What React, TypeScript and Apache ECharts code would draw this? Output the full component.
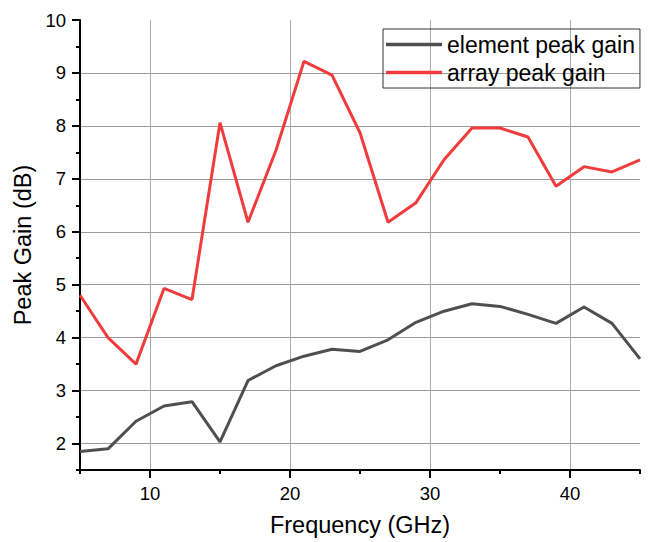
import { useEffect, useRef } from "react";
import * as echarts from "echarts";

const frequencies = [5, 7, 9, 11, 13, 15, 17, 19, 21, 23, 25, 27, 29, 31, 33, 35, 37, 39, 41, 43, 45];
const elementPeakGain = [1.85, 1.9, 2.42, 2.71, 2.79, 2.03, 3.19, 3.47, 3.65, 3.78, 3.74, 3.96, 4.29, 4.5, 4.64, 4.59, 4.44, 4.27, 4.58, 4.27, 3.6];
const arrayPeakGain = [4.8, 4.0, 3.5, 4.93, 4.72, 8.06, 6.18, 7.54, 9.22, 8.96, 7.87, 6.18, 6.55, 7.36, 7.96, 7.96, 7.79, 6.86, 7.23, 7.13, 7.36];
const xMajorTicks = [10, 20, 30, 40];
const yMajorTicks = [2, 3, 4, 5, 6, 7, 8, 9, 10];
const seriesNames = ["element peak gain", "array peak gain"];

const X_MIN = 5, X_MAX = 45, X_STEP = 5;
const Y_MIN = 1.5, Y_MAX = 10, Y_STEP = 0.5;

const FONT = "Liberation Sans, Arial, sans-serif";

export default function App() {
  const ref = useRef<HTMLDivElement>(null);
  useEffect(() => {
    document.body.style.margin = "0";
    if (!ref.current) return;
    const chart = echarts.init(ref.current, undefined, { renderer: "svg" });

    const xCount = Math.round((X_MAX - X_MIN) / X_STEP) + 1;
    const xSplitColors: string[] = [];
    for (let i = 0; i < xCount; i++) {
      const v = X_MIN + i * X_STEP;
      xSplitColors.push(xMajorTicks.includes(v) ? "#ababab" : "rgba(0,0,0,0)");
    }
    const yCount = Math.round((Y_MAX - Y_MIN) / Y_STEP) + 1;
    const ySplitColors: string[] = [];
    for (let i = 0; i < yCount; i++) {
      const v = Y_MIN + i * Y_STEP;
      ySplitColors.push(yMajorTicks.includes(v) && v !== Y_MAX ? "#9a9a9a" : "rgba(0,0,0,0)");
    }

    const axisLineStyle = { color: "#000", width: 2 };

    chart.setOption({
      animation: false,
      backgroundColor: "#fff",
      textStyle: { fontFamily: FONT },
      grid: { left: 80, right: 10, top: 20, bottom: 70, containLabel: false },
      legend: {
        orient: "vertical",
        left: 383,
        top: 29,
        padding: [4, 5, 4, 3],
        itemGap: 5,
        itemWidth: 56,
        itemHeight: 3.5,
        icon: "rect",
        borderColor: "#333",
        borderWidth: 1,
        textStyle: { fontSize: 23, color: "#000", fontFamily: FONT },
        data: seriesNames,
      },
      xAxis: [
        {
          type: "value",
          min: X_MIN,
          max: X_MAX,
          interval: X_STEP,
          position: "bottom",
          name: "Frequency (GHz)",
          nameLocation: "middle",
          nameGap: 43,
          nameTextStyle: { fontSize: 23.5, color: "#000", fontFamily: FONT },
          axisLine: { onZero: false, lineStyle: axisLineStyle },
          axisTick: { show: true, inside: false, length: 4, lineStyle: { color: "#000", width: 2 } },
          axisLabel: {
            fontSize: 18.5,
            color: "#000",
            margin: 14,
            fontFamily: FONT,
            formatter: (v: number) => (xMajorTicks.includes(v) ? String(v) : ""),
          },
          splitLine: { show: true, lineStyle: { color: xSplitColors, width: 1 } },
        },
        {
          type: "value",
          min: X_MIN,
          max: X_MAX,
          position: "bottom",
          axisLine: { show: false, onZero: false },
          axisTick: { show: true, inside: false, length: 8, customValues: xMajorTicks, lineStyle: { color: "#000", width: 2 } },
          axisLabel: { show: false },
          splitLine: { show: false },
        },
      ],
      yAxis: [
        {
          type: "value",
          min: Y_MIN,
          max: Y_MAX,
          interval: Y_STEP,
          position: "left",
          name: "Peak Gain (dB)",
          nameLocation: "middle",
          nameGap: 40,
          nameTextStyle: { fontSize: 23.5, color: "#000", fontFamily: FONT },
          axisLine: { show: true, onZero: false, lineStyle: axisLineStyle },
          axisTick: { show: true, inside: false, length: 4, lineStyle: { color: "#000", width: 2 } },
          axisLabel: {
            fontSize: 18.5,
            color: "#000",
            margin: 14,
            fontFamily: FONT,
            formatter: (v: number) => (yMajorTicks.includes(v) ? String(v) : ""),
          },
          splitLine: { show: true, lineStyle: { color: ySplitColors, width: 1 } },
        },
        {
          type: "value",
          min: Y_MIN,
          max: Y_MAX,
          position: "left",
          axisLine: { show: false, onZero: false },
          axisTick: { show: true, inside: false, length: 8, customValues: yMajorTicks, lineStyle: { color: "#000", width: 2 } },
          axisLabel: { show: false },
          splitLine: { show: false },
        },
      ],
      series: [
        {
          name: seriesNames[0],
          type: "line",
          xAxisIndex: 0,
          yAxisIndex: 0,
          symbol: "none",
          data: frequencies.map((f, i) => [f, elementPeakGain[i]]),
          lineStyle: { color: "#4f4f4f", width: 3 },
          itemStyle: { color: "#4f4f4f" },
          z: 3,
        },
        {
          name: seriesNames[1],
          type: "line",
          xAxisIndex: 0,
          yAxisIndex: 0,
          symbol: "none",
          data: frequencies.map((f, i) => [f, arrayPeakGain[i]]),
          lineStyle: { color: "#f03c3c", width: 3 },
          itemStyle: { color: "#f03c3c" },
          z: 4,
        },
      ],
    });
    return () => chart.dispose();
  }, []);
  return <div ref={ref} style={{ width: 650, height: 542 }} />;
}
